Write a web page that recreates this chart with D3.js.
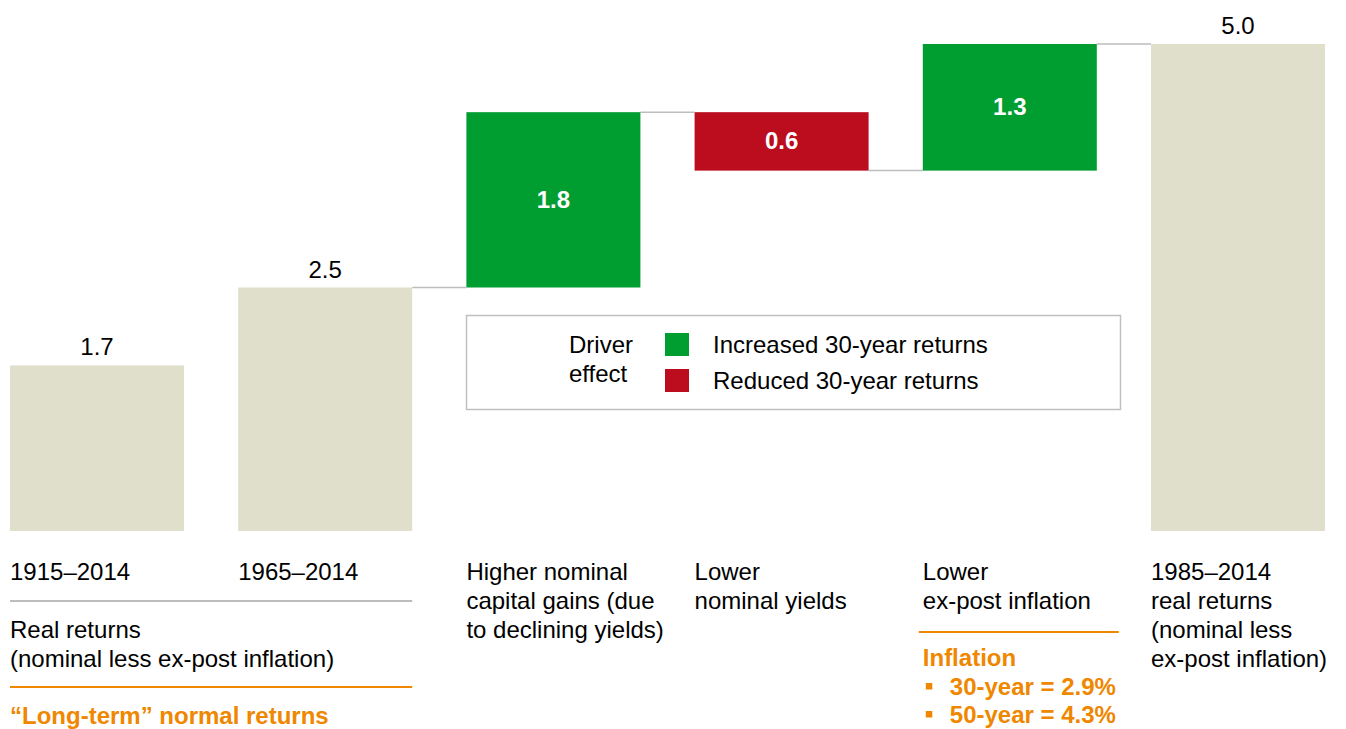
<!DOCTYPE html>
<html>
<head>
<meta charset="utf-8">
<script src="https://cdn.jsdelivr.net/npm/d3@7"></script>
<style>
  body { margin: 0; background: #fff; }
  text { font-family: "Liberation Sans", Arial, sans-serif; font-size: 24px; }
</style>
</head>
<body>
<div id="chart"></div>
<script>
/*
    Chart data
*/
var categories = ["1915–2014", "1965–2014", "Higher nominal", "Lower nominal", "Lower inflation", "1985–2014"];
var values = [1.7, 2.5, 1.8, -0.6, 1.3, 5.0];
var kinds = ["total", "total", "up", "down", "up", "total"];
var catLabels = [
    ["1915–2014"],
    ["1965–2014"],
    ["Higher nominal", "capital gains (due", "to declining yields)"],
    ["Lower", "nominal yields"],
    ["Lower", "ex-post inflation"],
    ["1985–2014", "real returns", "(nominal less", "ex-post inflation)"]
];
var legendItems = ["Increased 30-year returns", "Reduced 30-year returns"];
var inflationNotes = ["30-year = 2.9%", "50-year = 4.3%"];

/*
    Dimensions and colours
*/
var W = 1346, H = 729;
var colors = { total: "#e0dfcb", up: "#009d30", down: "#bb0d1e" };
var orange = "#ef8700", grey = "#bdbdbd";

var svg = d3.select("#chart").append("svg")
    .attr("width", W)
    .attr("height", H);

var x = d3.scaleBand()
    .domain(categories)
    .range([10, 1325])
    .paddingInner(0.2375)
    .paddingOuter(0);

var y = d3.scaleLinear()
    .domain([0, 5])
    .range([531, 44]);

/*
    Work out the start / end of each waterfall piece
*/
var bars = [], running = 0;
for (var i = 0; i < categories.length; i++) {
    var d = { cat: categories[i], v: values[i], kind: kinds[i] };
    if (d.kind == "total") {
        d.y0 = 0; d.y1 = d.v; running = d.v;
    } else {
        d.y0 = running; d.y1 = running + d.v; running = d.y1;
    }
    bars.push(d);
}

/*
    Connector lines between neighbouring bars (none between the two first totals)
*/
var links = [];
for (i = 1; i < bars.length - 1; i++) {
    var a = bars[i], b = bars[i + 1];
    links.push({ x1: x(a.cat) + x.bandwidth(), x2: x(b.cat), v: a.y1 });
}

svg.append("g")
    .selectAll("line")
    .data(links)
    .enter()
    .append("line")
    .attr("x1", function (d) { return d.x1; })
    .attr("x2", function (d) { return d.x2; })
    .attr("y1", function (d) { return y(d.v); })
    .attr("y2", function (d) { return y(d.v); })
    .style("stroke", grey)
    .style("stroke-width", 1.5);

svg.append("g")
    .selectAll("rect")
    .data(bars)
    .enter()
    .append("rect")
    .attr("x", function (d) { return x(d.cat); })
    .attr("width", x.bandwidth())
    .attr("y", function (d) { return y(Math.max(d.y0, d.y1)); })
    .attr("height", function (d) { return Math.abs(y(d.y0) - y(d.y1)); })
    .style("fill", function (d) { return colors[d.kind]; });

/*
    Value labels: above totals, inside drivers
*/
svg.append("g")
    .selectAll("text")
    .data(bars)
    .enter()
    .append("text")
    .attr("x", function (d) { return x(d.cat) + x.bandwidth() / 2; })
    .attr("y", function (d) {
        if (d.kind == "total") return y(d.y1) - 10;
        return (y(d.y0) + y(d.y1)) / 2 + 8;
    })
    .attr("text-anchor", "middle")
    .style("font-weight", function (d) { return d.kind == "total" ? "normal" : "bold"; })
    .style("fill", function (d) { return d.kind == "total" ? "#000" : "#fff"; })
    .text(function (d) { return Math.abs(d.v).toFixed(1); });

/*
    Category labels under the bars
*/
var lineH = 29;
var cl = svg.append("g")
    .selectAll("text")
    .data(categories)
    .enter()
    .append("text")
    .attr("x", function (d) { return x(d); })
    .attr("y", 580)
    .style("fill", "#000");
cl.each(function (d, i) {
    var t = d3.select(this);
    catLabels[i].forEach(function (s, j) {
        t.append("tspan").attr("x", x(d)).attr("dy", j == 0 ? 0 : lineH).text(s);
    });
});

/*
    Left annotation block
*/
var left = x(categories[0]), leftEnd = x(categories[1]) + x.bandwidth();
svg.append("line")
    .attr("x1", left).attr("x2", leftEnd)
    .attr("y1", 601).attr("y2", 601)
    .style("stroke", grey).style("stroke-width", 2);
svg.append("text")
    .attr("x", left).attr("y", 638)
    .text("Real returns");
svg.append("text")
    .attr("x", left).attr("y", 667)
    .text("(nominal less ex-post inflation)");
svg.append("line")
    .attr("x1", left).attr("x2", leftEnd)
    .attr("y1", 687).attr("y2", 687)
    .style("stroke", orange).style("stroke-width", 2);
svg.append("text")
    .attr("x", left).attr("y", 724)
    .style("font-weight", "bold")
    .style("fill", orange)
    .text("“Long-term” normal returns");

/*
    Inflation note under the fifth bar
*/
var inflX = x(categories[4]);
svg.append("line")
    .attr("x1", inflX - 4).attr("x2", inflX + 196)
    .attr("y1", 632).attr("y2", 632)
    .style("stroke", orange).style("stroke-width", 2);
svg.append("text")
    .attr("x", inflX).attr("y", 666)
    .style("font-weight", "bold")
    .style("fill", orange)
    .text("Inflation");
inflationNotes.forEach(function (s, j) {
    var yy = 695 + j * 28;
    svg.append("rect")
        .attr("x", inflX + 3).attr("y", yy - 12)
        .attr("width", 6.5).attr("height", 6.5)
        .style("fill", orange);
    svg.append("text")
        .attr("x", inflX + 27).attr("y", yy)
        .style("font-weight", "bold")
        .style("fill", orange)
        .text(s);
});

/*
    Legend box
*/
var lg = svg.append("g");
lg.append("rect")
    .attr("x", 466.5).attr("y", 315.5)
    .attr("width", 654).attr("height", 94)
    .style("fill", "#fff")
    .style("stroke", "#c0c0c0")
    .style("stroke-width", 1.5);
lg.append("text").attr("x", 569).attr("y", 353).text("Driver");
lg.append("text").attr("x", 569).attr("y", 382).text("effect");
legendItems.forEach(function (s, j) {
    lg.append("rect")
        .attr("x", 665).attr("y", 333 + j * 36)
        .attr("width", 24).attr("height", 23)
        .style("fill", j == 0 ? colors.up : colors.down);
    lg.append("text")
        .attr("x", 713).attr("y", 353 + j * 36)
        .text(s);
});
</script>
</body>
</html>
